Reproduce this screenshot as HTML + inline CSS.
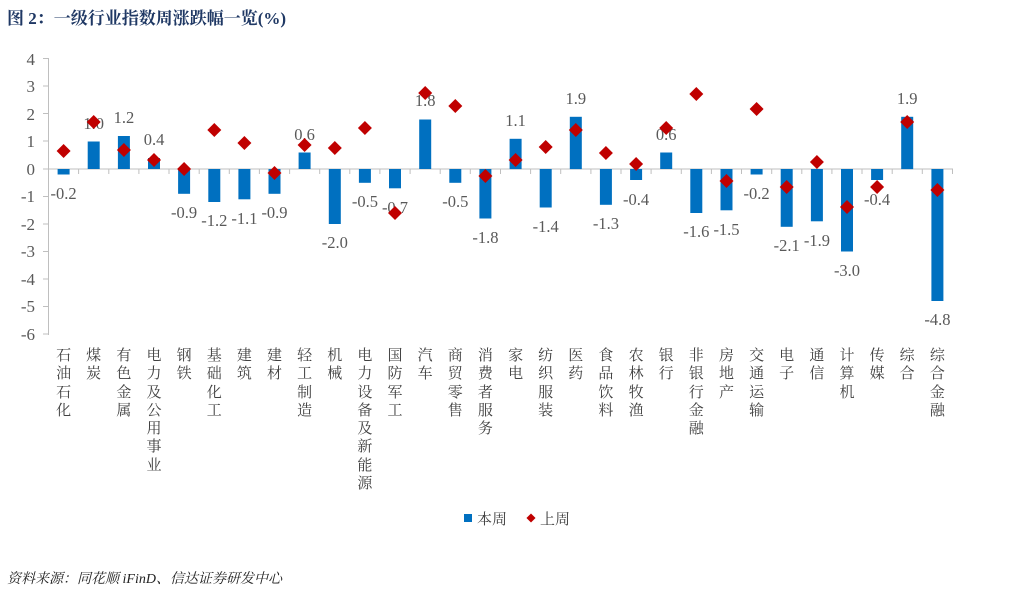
<!DOCTYPE html>
<html><head><meta charset="utf-8"><style>
body{margin:0;background:#fff;width:1031px;height:592px;position:relative;overflow:hidden;font-family:"Liberation Serif","Noto Serif CJK SC",serif}
.t{position:absolute;left:7px;top:4px;font-size:17px;font-weight:bold;color:#1f3864;font-family:"Liberation Serif","Noto Serif CJK SC",serif}
.c{position:absolute;top:346px;width:16px;font-size:15px;line-height:18.3px;text-align:center;color:#404040;font-family:"Noto Serif CJK SC",serif;word-break:break-all}
.s{position:absolute;left:7px;top:568px;font-size:14px;font-style:italic;color:#222;font-family:"Liberation Serif","Noto Serif CJK SC",serif}
</style></head><body>
<div class="t">图 2：一级行业指数周涨跌幅一览(%)</div>
<svg width="1031" height="592" style="position:absolute;left:0;top:0">
<defs><path id="d" d="M0,-7 L7,0 L0,7 L-7,0Z" fill="#c00000"/></defs>
<g stroke="#bfbfbf" stroke-width="1">
<line x1="48.5" y1="58" x2="48.5" y2="335"/>
<line x1="48.5" y1="169" x2="953" y2="169"/>
<line x1="43" y1="58.5" x2="48.5" y2="58.5"/><line x1="43" y1="86" x2="48.5" y2="86"/><line x1="43" y1="113.5" x2="48.5" y2="113.5"/><line x1="43" y1="141" x2="48.5" y2="141"/><line x1="43" y1="169" x2="48.5" y2="169"/><line x1="43" y1="196.5" x2="48.5" y2="196.5"/><line x1="43" y1="224" x2="48.5" y2="224"/><line x1="43" y1="251.5" x2="48.5" y2="251.5"/><line x1="43" y1="279" x2="48.5" y2="279"/><line x1="43" y1="306.5" x2="48.5" y2="306.5"/><line x1="43" y1="334" x2="48.5" y2="334"/>
</g>
<g font-size="17" fill="#595959" text-anchor="end" font-family="Liberation Serif">
<text x="35" y="65">4</text><text x="35" y="92">3</text><text x="35" y="120">2</text><text x="35" y="147">1</text><text x="35" y="175">0</text><text x="35" y="202">-1</text><text x="35" y="230">-2</text><text x="35" y="257">-3</text><text x="35" y="285">-4</text><text x="35" y="312">-5</text><text x="35" y="340">-6</text>
</g>
<g fill="#0070c0">
<rect x="57.6" y="169" width="12" height="5.5"/>
<rect x="87.7" y="141.5" width="12" height="27.5"/>
<rect x="117.9" y="136" width="12" height="33"/>
<rect x="148" y="158" width="12" height="11"/>
<rect x="178.1" y="169" width="12" height="24.8"/>
<rect x="208.3" y="169" width="12" height="33"/>
<rect x="238.4" y="169" width="12" height="30.3"/>
<rect x="268.5" y="169" width="12" height="24.8"/>
<rect x="298.6" y="152.5" width="12" height="16.5"/>
<rect x="328.8" y="169" width="12" height="55"/>
<rect x="358.9" y="169" width="12" height="13.8"/>
<rect x="389" y="169" width="12" height="19.3"/>
<rect x="419.2" y="119.5" width="12" height="49.5"/>
<rect x="449.3" y="169" width="12" height="13.8"/>
<rect x="479.4" y="169" width="12" height="49.5"/>
<rect x="509.6" y="138.8" width="12" height="30.3"/>
<rect x="539.7" y="169" width="12" height="38.5"/>
<rect x="569.8" y="116.8" width="12" height="52.3"/>
<rect x="599.9" y="169" width="12" height="35.8"/>
<rect x="630.1" y="169" width="12" height="11"/>
<rect x="660.2" y="152.5" width="12" height="16.5"/>
<rect x="690.3" y="169" width="12" height="44"/>
<rect x="720.5" y="169" width="12" height="41.3"/>
<rect x="750.6" y="169" width="12" height="5.5"/>
<rect x="780.7" y="169" width="12" height="57.8"/>
<rect x="810.9" y="169" width="12" height="52.3"/>
<rect x="841" y="169" width="12" height="82.5"/>
<rect x="871.1" y="169" width="12" height="11"/>
<rect x="901.2" y="116.8" width="12" height="52.3"/>
<rect x="931.4" y="169" width="12" height="132"/>
</g>
<g stroke="#bfbfbf">
<line x1="78.6" y1="169" x2="78.6" y2="174"/><line x1="108.8" y1="169" x2="108.8" y2="174"/><line x1="138.9" y1="169" x2="138.9" y2="174"/><line x1="169" y1="169" x2="169" y2="174"/><line x1="199.2" y1="169" x2="199.2" y2="174"/><line x1="229.3" y1="169" x2="229.3" y2="174"/><line x1="259.4" y1="169" x2="259.4" y2="174"/><line x1="289.6" y1="169" x2="289.6" y2="174"/><line x1="319.7" y1="169" x2="319.7" y2="174"/><line x1="349.8" y1="169" x2="349.8" y2="174"/><line x1="379.9" y1="169" x2="379.9" y2="174"/><line x1="410.1" y1="169" x2="410.1" y2="174"/><line x1="440.2" y1="169" x2="440.2" y2="174"/><line x1="470.3" y1="169" x2="470.3" y2="174"/><line x1="500.5" y1="169" x2="500.5" y2="174"/><line x1="530.6" y1="169" x2="530.6" y2="174"/><line x1="560.7" y1="169" x2="560.7" y2="174"/><line x1="590.9" y1="169" x2="590.9" y2="174"/><line x1="621" y1="169" x2="621" y2="174"/><line x1="651.1" y1="169" x2="651.1" y2="174"/><line x1="681.3" y1="169" x2="681.3" y2="174"/><line x1="711.4" y1="169" x2="711.4" y2="174"/><line x1="741.5" y1="169" x2="741.5" y2="174"/><line x1="771.7" y1="169" x2="771.7" y2="174"/><line x1="801.8" y1="169" x2="801.8" y2="174"/><line x1="831.9" y1="169" x2="831.9" y2="174"/><line x1="862" y1="169" x2="862" y2="174"/><line x1="892.2" y1="169" x2="892.2" y2="174"/><line x1="922.3" y1="169" x2="922.3" y2="174"/><line x1="952.5" y1="169" x2="952.5" y2="174"/>
</g>
<g font-size="16.5" fill="#595959" text-anchor="middle" font-family="Liberation Serif">
<text x="63.6" y="199">-0.2</text>
<text x="93.7" y="129">1.0</text>
<text x="123.9" y="123">1.2</text>
<text x="154" y="145">0.4</text>
<text x="184.1" y="218">-0.9</text>
<text x="214.3" y="226">-1.2</text>
<text x="244.4" y="224">-1.1</text>
<text x="274.5" y="218">-0.9</text>
<text x="304.6" y="140">0.6</text>
<text x="334.8" y="248">-2.0</text>
<text x="364.9" y="207">-0.5</text>
<text x="395" y="213">-0.7</text>
<text x="425.2" y="106">1.8</text>
<text x="455.3" y="207">-0.5</text>
<text x="485.4" y="243">-1.8</text>
<text x="515.6" y="126">1.1</text>
<text x="545.7" y="232">-1.4</text>
<text x="575.8" y="104">1.9</text>
<text x="605.9" y="229">-1.3</text>
<text x="636.1" y="205">-0.4</text>
<text x="666.2" y="140">0.6</text>
<text x="696.3" y="237">-1.6</text>
<text x="726.5" y="235">-1.5</text>
<text x="756.6" y="199">-0.2</text>
<text x="786.7" y="251">-2.1</text>
<text x="816.9" y="246">-1.9</text>
<text x="847" y="276">-3.0</text>
<text x="877.1" y="205">-0.4</text>
<text x="907.2" y="104">1.9</text>
<text x="937.4" y="325">-4.8</text>
</g>
<g>
<use href="#d" x="63.6" y="151"/><use href="#d" x="93.7" y="122"/><use href="#d" x="123.9" y="150"/><use href="#d" x="154" y="160"/><use href="#d" x="184.1" y="169"/><use href="#d" x="214.3" y="130"/><use href="#d" x="244.4" y="143"/><use href="#d" x="274.5" y="173"/><use href="#d" x="304.6" y="145"/><use href="#d" x="334.8" y="148"/><use href="#d" x="364.9" y="128"/><use href="#d" x="395" y="213"/><use href="#d" x="425.2" y="93"/><use href="#d" x="455.3" y="106"/><use href="#d" x="485.4" y="176"/><use href="#d" x="515.6" y="160"/><use href="#d" x="545.7" y="147"/><use href="#d" x="575.8" y="130"/><use href="#d" x="605.9" y="153"/><use href="#d" x="636.1" y="164"/><use href="#d" x="666.2" y="128"/><use href="#d" x="696.3" y="94"/><use href="#d" x="726.5" y="181"/><use href="#d" x="756.6" y="109"/><use href="#d" x="786.7" y="187"/><use href="#d" x="816.9" y="162"/><use href="#d" x="847" y="207"/><use href="#d" x="877.1" y="187"/><use href="#d" x="907.2" y="122"/><use href="#d" x="937.4" y="190"/>
</g>
<rect x="464" y="514" width="8" height="8" fill="#0070c0"/>
<use href="#d" x="531" y="518" transform="translate(531 518) scale(0.65) translate(-531 -518)"/>
<g font-size="15" fill="#404040" font-family="Noto Serif CJK SC, serif">
<text x="477" y="524">本周</text><text x="540" y="524">上周</text>
</g>
</svg>
<div class="c" style="left:55.6px">石油石化</div>
<div class="c" style="left:85.7px">煤炭</div>
<div class="c" style="left:115.9px">有色金属</div>
<div class="c" style="left:146px">电力及公用事业</div>
<div class="c" style="left:176.1px">钢铁</div>
<div class="c" style="left:206.3px">基础化工</div>
<div class="c" style="left:236.4px">建筑</div>
<div class="c" style="left:266.5px">建材</div>
<div class="c" style="left:296.6px">轻工制造</div>
<div class="c" style="left:326.8px">机械</div>
<div class="c" style="left:356.9px">电力设备及新能源</div>
<div class="c" style="left:387px">国防军工</div>
<div class="c" style="left:417.2px">汽车</div>
<div class="c" style="left:447.3px">商贸零售</div>
<div class="c" style="left:477.4px">消费者服务</div>
<div class="c" style="left:507.6px">家电</div>
<div class="c" style="left:537.7px">纺织服装</div>
<div class="c" style="left:567.8px">医药</div>
<div class="c" style="left:597.9px">食品饮料</div>
<div class="c" style="left:628.1px">农林牧渔</div>
<div class="c" style="left:658.2px">银行</div>
<div class="c" style="left:688.3px">非银行金融</div>
<div class="c" style="left:718.5px">房地产</div>
<div class="c" style="left:748.6px">交通运输</div>
<div class="c" style="left:778.7px">电子</div>
<div class="c" style="left:808.9px">通信</div>
<div class="c" style="left:839px">计算机</div>
<div class="c" style="left:869.1px">传媒</div>
<div class="c" style="left:899.2px">综合</div>
<div class="c" style="left:929.4px">综合金融</div>
<div class="s">资料来源：同花顺 iFinD、信达证券研发中心</div>
</body></html>
